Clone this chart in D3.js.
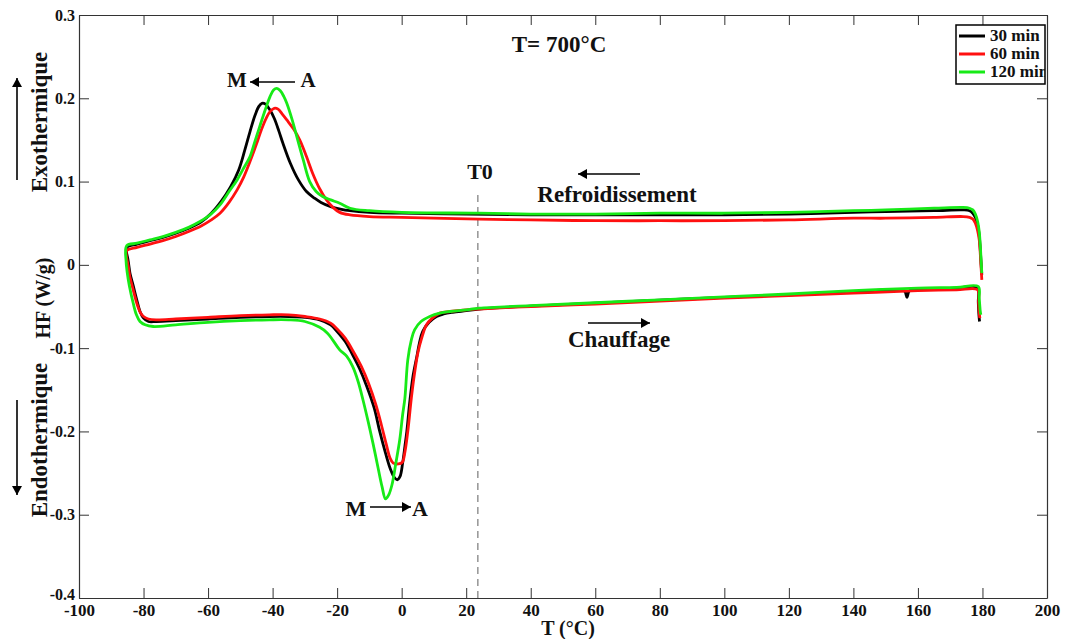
<!DOCTYPE html>
<html><head><meta charset="utf-8">
<script src="https://cdn.jsdelivr.net/npm/d3@7"></script>
<style>
body{margin:0;background:#fff}
text{font-family:"Liberation Serif","Times New Roman",serif;font-weight:bold;fill:#111}
</style>
</head><body><svg id="c" width="1068" height="639"></svg>
<script>
// ---------- data ----------
const xTicks = [-100,-80,-60,-40,-20,0,20,40,60,80,100,120,140,160,180,200];
const yTicks = [-0.4,-0.3,-0.2,-0.1,0,0.1,0.2,0.3];
const seriesNames = ["30 min","60 min","120 min"];
const seriesColors = ["#000000","#ff1010","#17ea17"];
const t0Value = 23.6;

// cooling (Refroidissement), T descending from 180 to -85
const cool30 = [[179.8,-0.012],[179.6,0.0],[179.3,0.02],[179.0,0.035],[178.5,0.048],[177.8,0.057],[177,0.062],[176,0.065],[174,0.066],[165,0.065],[150,0.064],[140,0.063],[120,0.061],[100,0.06],[80,0.06],[60,0.06],[40,0.06],[20,0.061],[0,0.062],[-10,0.063],[-16,0.065],[-19,0.067],[-22,0.07],[-25,0.075],[-27,0.08],[-29.5,0.088],[-32,0.102],[-34.5,0.122],[-36.8,0.146],[-38,0.16],[-39.5,0.176],[-41,0.187],[-42.2,0.193],[-43.3,0.194],[-44.3,0.19],[-45.5,0.179],[-47,0.16],[-48.6,0.138],[-50.5,0.114],[-53,0.094],[-56,0.076],[-59,0.062],[-62,0.052],[-66,0.044],[-70,0.038],[-74,0.033],[-78,0.029],[-82,0.025],[-85.2,0.021]];
const cool60 = [[179.8,-0.018],[179.6,-0.005],[179.3,0.015],[179.0,0.03],[178.5,0.041],[177.8,0.05],[177,0.055],[176,0.057],[174,0.058],[165,0.057],[150,0.056],[140,0.056],[120,0.054],[100,0.053],[80,0.053],[60,0.053],[40,0.054],[24,0.055],[0,0.057],[-10,0.058],[-16,0.06],[-19.2,0.063],[-21.3,0.069],[-23.3,0.078],[-25.5,0.092],[-27.6,0.11],[-29.5,0.13],[-31.6,0.15],[-33.5,0.163],[-35.6,0.174],[-37,0.181],[-38.3,0.187],[-39.5,0.188],[-40.8,0.184],[-42,0.176],[-43.5,0.162],[-45,0.145],[-47,0.124],[-49,0.105],[-51,0.09],[-53.5,0.075],[-56.3,0.062],[-59,0.054],[-62,0.047],[-66,0.04],[-70,0.034],[-74,0.029],[-78,0.025],[-82,0.021],[-85.2,0.017]];
const cool120 = [[179.8,-0.01],[179.6,0.004],[179.3,0.025],[179.0,0.04],[178.5,0.052],[177.8,0.061],[177,0.066],[176,0.068],[174,0.069],[165,0.068],[150,0.066],[140,0.065],[120,0.063],[100,0.062],[80,0.062],[60,0.061],[40,0.061],[24,0.062],[0,0.063],[-10,0.065],[-16,0.068],[-19.2,0.074],[-22,0.078],[-24.5,0.082],[-26.5,0.088],[-28.5,0.1],[-30.5,0.126],[-32.5,0.154],[-34,0.175],[-35.6,0.194],[-36.5,0.202],[-37.6,0.209],[-38.7,0.212],[-39.7,0.21],[-40.8,0.202],[-42.3,0.186],[-44,0.166],[-45.5,0.148],[-47,0.13],[-49,0.116],[-51,0.102],[-53.5,0.088],[-56.3,0.072],[-59.4,0.06],[-62.5,0.052],[-66,0.045],[-70,0.039],[-74,0.034],[-78,0.03],[-82,0.026],[-85.2,0.023]];

// heating (Chauffage), T ascending from -85 to 180
const heat30 = [[-85.3,0.016],[-84.8,0.006],[-84.2,-0.01],[-83.2,-0.025],[-82.1,-0.042],[-81,-0.057],[-80,-0.064],[-78.5,-0.068],[-76,-0.068],[-70,-0.067],[-60,-0.065],[-50,-0.063],[-41,-0.062],[-35,-0.062],[-30,-0.063],[-25.4,-0.066],[-22,-0.072],[-20,-0.08],[-17.5,-0.092],[-15.2,-0.108],[-13,-0.125],[-10.8,-0.146],[-8.5,-0.172],[-6.8,-0.2],[-5,-0.226],[-3.5,-0.245],[-2.3,-0.255],[-1.4,-0.258],[-0.5,-0.254],[0.3,-0.238],[1,-0.218],[1.6,-0.2],[2.5,-0.165],[3.5,-0.134],[4.7,-0.11],[5.5,-0.094],[6.5,-0.08],[8.5,-0.069],[10.8,-0.062],[13,-0.059],[15.8,-0.057],[20,-0.055],[24,-0.053],[40,-0.0495],[60,-0.046],[80,-0.0425],[100,-0.039],[120,-0.036],[140,-0.0325],[155,-0.030],[156,-0.032],[156.6,-0.039],[157.2,-0.032],[158,-0.03],[165,-0.029],[172,-0.028],[178.4,-0.027],[178.7,-0.045],[178.9,-0.06],[179.1,-0.068]];
const heat60 = [[-85.3,0.01],[-84.8,0.0],[-84.2,-0.015],[-83.2,-0.03],[-82.1,-0.046],[-81,-0.057],[-80,-0.062],[-78.5,-0.065],[-76,-0.066],[-70,-0.065],[-60,-0.063],[-50,-0.061],[-41,-0.06],[-35,-0.06],[-30,-0.062],[-25.4,-0.065],[-22,-0.07],[-20,-0.077],[-17.5,-0.088],[-15,-0.104],[-12.5,-0.122],[-10.3,-0.142],[-8,-0.168],[-6.3,-0.192],[-4.8,-0.215],[-3.6,-0.232],[-2.6,-0.238],[-1,-0.239],[0.2,-0.237],[1,-0.225],[1.9,-0.2],[3,-0.16],[4,-0.13],[5,-0.106],[6.2,-0.088],[7.7,-0.072],[9.5,-0.064],[11.8,-0.058],[15,-0.056],[20,-0.054],[24,-0.053],[40,-0.05],[60,-0.047],[80,-0.0435],[100,-0.04],[120,-0.037],[140,-0.034],[160,-0.031],[172,-0.030],[178.5,-0.030],[178.8,-0.045],[179,-0.058],[179.2,-0.064]];
const heat120 = [[-85.4,0.004],[-85.1,-0.008],[-84.4,-0.025],[-83.2,-0.046],[-82.2,-0.06],[-81.1,-0.068],[-79.5,-0.072],[-77,-0.074],[-70,-0.072],[-60,-0.069],[-50,-0.067],[-41,-0.066],[-35,-0.066],[-30,-0.068],[-25.4,-0.075],[-23,-0.082],[-21.4,-0.09],[-19.2,-0.102],[-17,-0.11],[-15.2,-0.122],[-13.5,-0.14],[-12,-0.162],[-10.4,-0.188],[-8.9,-0.214],[-7.4,-0.242],[-6.1,-0.266],[-5,-0.281],[-4,-0.276],[-3,-0.264],[-1.8,-0.238],[-0.6,-0.21],[0.3,-0.18],[1,-0.16],[1.9,-0.114],[3,-0.09],[4,-0.078],[6,-0.068],[8.7,-0.062],[11.8,-0.058],[15,-0.056],[20,-0.054],[24,-0.052],[40,-0.049],[60,-0.0455],[80,-0.042],[100,-0.0385],[120,-0.035],[140,-0.031],[160,-0.028],[172,-0.027],[178.7,-0.026],[179.0,-0.04],[179.3,-0.055],[179.5,-0.06]];

const coolingSeries = [cool30, cool60, cool120];
const heatingSeries = [heat30, heat60, heat120];

// ---------- chart ----------
const svg = d3.select("#c");
const L = 79, R = 1047, T = 15, B = 598;
const x = d3.scaleLinear().domain([-100,200]).range([L,R]);
const y = d3.scaleLinear().domain([-0.4,0.3]).range([B,T]);

const fmtY = d => d === 0 ? "0" : d.toFixed(1);

// frame + axes
const axB = svg.append("g").attr("transform",`translate(0,${B})`)
  .call(d3.axisBottom(x).tickValues(xTicks).tickSizeInner(-10).tickSizeOuter(0).tickPadding(6).tickFormat(d=>String(d)));
const axT = svg.append("g").attr("transform",`translate(0,${T})`)
  .call(d3.axisTop(x).tickValues(xTicks).tickSizeInner(-10).tickSizeOuter(0).tickFormat(""));
const axL = svg.append("g").attr("transform",`translate(${L},0)`)
  .call(d3.axisLeft(y).tickValues(yTicks).tickSizeInner(-10).tickSizeOuter(0).tickPadding(4).tickFormat(fmtY));
const axR = svg.append("g").attr("transform",`translate(${R},0)`)
  .call(d3.axisRight(y).tickValues(yTicks).tickSizeInner(-10).tickSizeOuter(0).tickFormat(""));
[axB,axT,axL,axR].forEach(a=>{
  a.selectAll("path.domain").attr("stroke","#333").attr("stroke-width",1.2);
  a.selectAll(".tick line").attr("stroke","#333").attr("stroke-width",1);
  a.selectAll("text").attr("font-family","Liberation Serif").attr("font-weight","bold").attr("font-size",17).attr("fill","#111");
});
axL.selectAll("text").attr("font-size",16);
axL.selectAll(".tick").filter(d=>d===-0.4).select("text").attr("dy","0.1em");

// T0 dashed line
svg.append("line").attr("x1",x(t0Value)).attr("x2",x(t0Value)).attr("y1",195).attr("y2",B)
  .attr("stroke","#9a9a9a").attr("stroke-width",1.6).attr("stroke-dasharray","7,5");

// curves
const line = d3.line().x(d=>x(d[0])).y(d=>y(d[1])).curve(d3.curveCatmullRom.alpha(0.5));
seriesNames.forEach((n,i)=>{
  const pts = coolingSeries[i].concat(heatingSeries[i]);
  svg.append("path").datum(pts).attr("d",line).attr("fill","none")
    .attr("stroke",seriesColors[i]).attr("stroke-width",2.8).attr("stroke-linejoin","round");
});

// annotations
function arrowHead(px,py,dir){
  const s=9, w=5;
  let p;
  if(dir==='l') p=[[px,py],[px+s,py-w],[px+s,py+w]];
  if(dir==='r') p=[[px,py],[px-s,py-w],[px-s,py+w]];
  if(dir==='u') p=[[px,py],[px-w,py+s],[px+w,py+s]];
  if(dir==='d') p=[[px,py],[px-w,py-s],[px+w,py-s]];
  svg.append("path").attr("d","M"+p.join("L")+"Z").attr("fill","#000");
}
function hArrow(x1,x2,yy){
  svg.append("line").attr("x1",x1).attr("x2",x2).attr("y1",yy).attr("y2",yy).attr("stroke","#000").attr("stroke-width",1.6);
  arrowHead(x2,yy,x2<x1?'l':'r');
}
function vArrow(xx,y1,y2){
  svg.append("line").attr("x1",xx).attr("x2",xx).attr("y1",y1).attr("y2",y2).attr("stroke","#000").attr("stroke-width",1.6);
  arrowHead(xx,y2,y2<y1?'u':'d');
}
const txt = (s,xx,yy,fs,anchor) => svg.append("text").attr("x",xx).attr("y",yy).attr("font-size",fs).attr("text-anchor",anchor||"start").text(s);

txt("T= 700°C",559,52,23,"middle");
txt("T0",480,179,22,"middle");
txt("Refroidissement",617,202,23,"middle");
hArrow(640,578,174);
txt("Chauffage",619,347,23,"middle");
hArrow(588,650,323);
txt("M",237,87,21,"middle");
hArrow(295,250,82);
txt("A",308,87,21,"middle");
txt("M",356,516,22,"middle");
hArrow(370,411,507);
txt("A",420,516,22,"middle");

// y labels
svg.append("text").attr("transform","translate(47,122) rotate(-90)").attr("font-size",23).attr("text-anchor","middle").text("Exothermique");
svg.append("text").attr("transform","translate(50,298) rotate(-90)").attr("font-size",20).attr("text-anchor","middle").text("HF (W/g)");
svg.append("text").attr("transform","translate(47,440) rotate(-90)").attr("font-size",23).attr("text-anchor","middle").text("Endothermique");
vArrow(17,180,78);
vArrow(17,400,495);

// x label
txt("T (°C)",568,635,20,"middle");

// legend
const lg = svg.append("g");
lg.append("clipPath").attr("id","lgclip").append("rect").attr("x",956).attr("y",25).attr("width",89).attr("height",59);
lg.append("rect").attr("x",956).attr("y",25).attr("width",89).attr("height",59).attr("fill","#fff").attr("stroke","#000").attr("stroke-width",1.5);
const lgY = [36,54,72];
seriesNames.forEach((n,i)=>{
  lg.append("line").attr("x1",959).attr("x2",985).attr("y1",lgY[i]).attr("y2",lgY[i]).attr("stroke",seriesColors[i]).attr("stroke-width",3);
  lg.append("text").attr("x",990).attr("y",lgY[i]+5).attr("font-size",17).attr("clip-path","url(#lgclip)").text(n);
});
</script></body></html>
